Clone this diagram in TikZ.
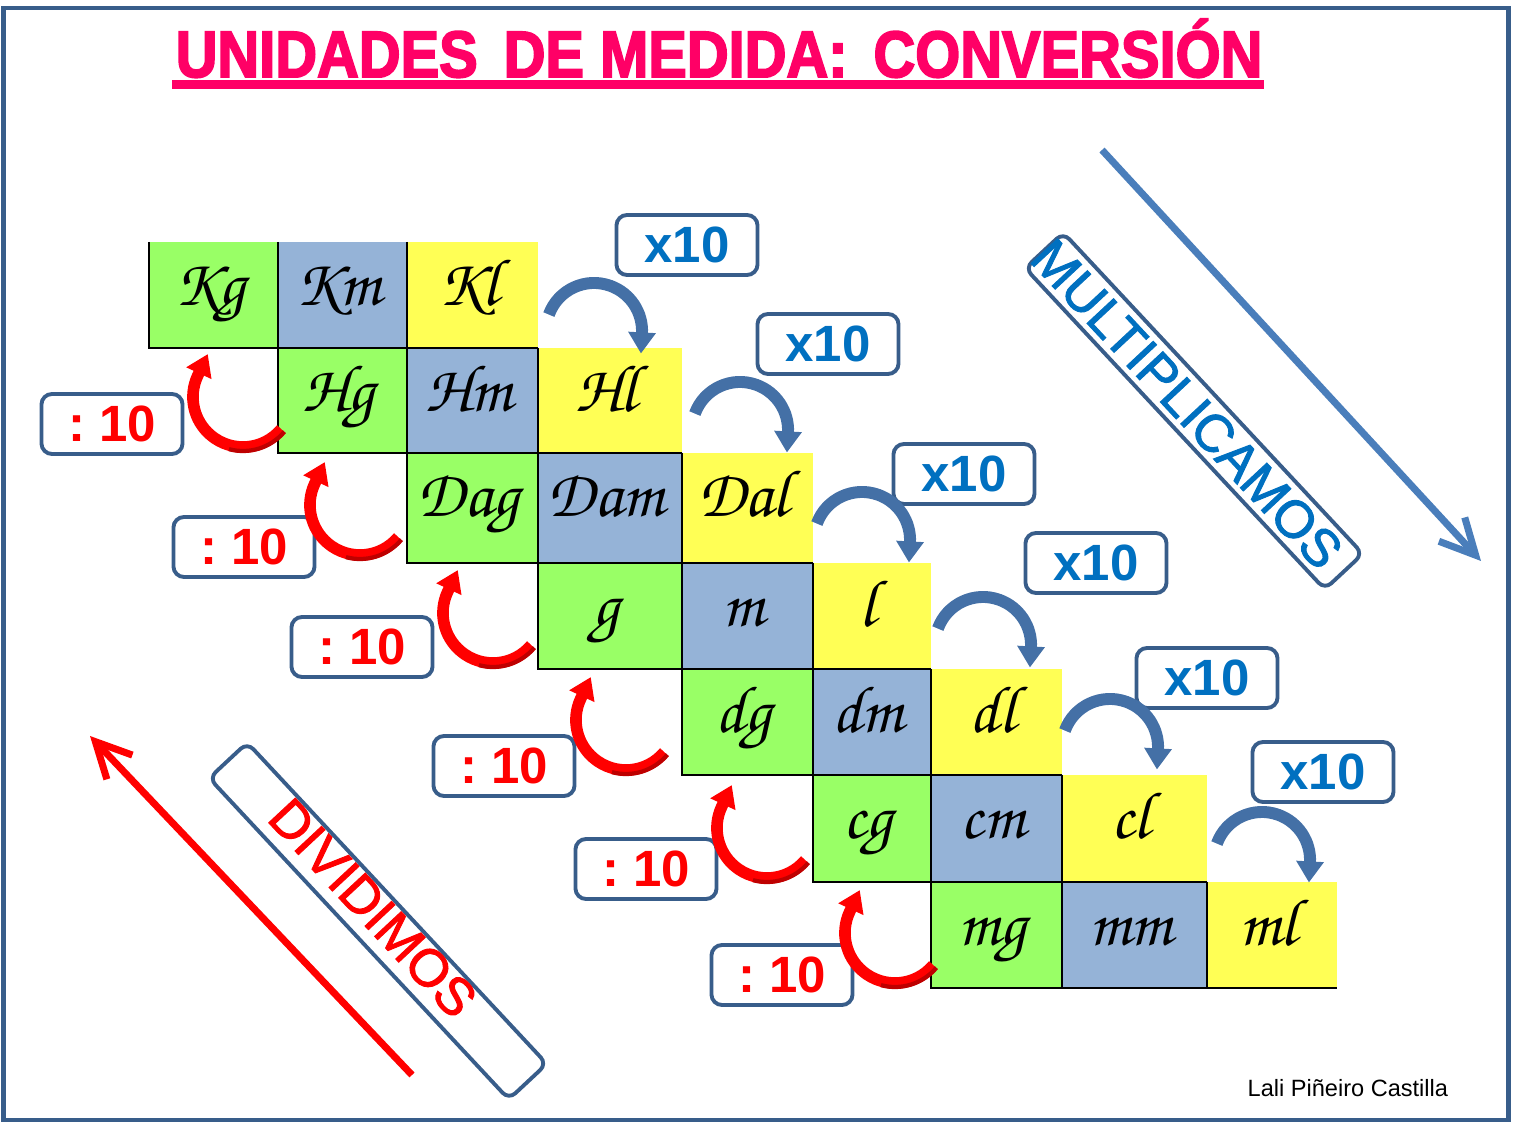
\documentclass[tikz,border=0pt]{standalone}
\usepackage{fontspec}
\setmainfont{Liberation Sans}
\newfontfamily\fuentetitulo[FakeBold=3]{Liberation Sans Bold}
\newfontfamily\fuentediag[FakeBold=1.8]{Liberation Sans}
\usepackage{tikz}
\usetikzlibrary{arrows.meta}

\definecolor{verde}{RGB}{153,255,102}
\definecolor{azulgris}{RGB}{149,179,215}
\definecolor{amarillo}{RGB}{255,255,85}
\definecolor{rosa}{RGB}{255,0,102}
\definecolor{marco}{RGB}{56,93,138}
\definecolor{azultexto}{RGB}{0,112,192}
\definecolor{azulflecha}{RGB}{68,112,166}
\definecolor{azullinea}{RGB}{74,126,187}
\definecolor{rojooscuro}{RGB}{190,0,0}

\newcommand{\manuscrita}{\fontencoding{OT1}\fontfamily{pzc}\fontseries{mb}\fontshape{it}\selectfont}

\begin{document}
\begin{tikzpicture}[x=0.01cm, y=0.01cm,
        celda/.style={inner sep=0pt, font={\fontsize{19}{22}\manuscrita}},
        borde/.style={black, line width=0.6pt},
        caja/.style={draw=marco, fill=white, line width=1.1pt, rounded corners=3pt, minimum width=1.41cm, minimum height=0.60cm, inner sep=0pt, font={\fontsize{14.5}{16}\selectfont\bfseries}},
        cajarot/.style={draw=marco, line width=1.1pt, rounded corners=2.5pt, minimum width=4.39cm, minimum height=0.52cm, rotate=-47},
        textorot/.style={rotate=-47, font={\fontsize{15}{18}\fuentediag}},
        flechaDiv/.style={red, line width=3.3pt, -{Triangle[width=7.5pt,length=6pt]}},
        sombraDiv/.style={rojooscuro, line width=1.2pt},
        flechaMul/.style={azulflecha, line width=3.4pt, -{Triangle[width=7.5pt,length=6pt]}},
        grande/.style={line width=2pt, -{Straight Barb[length=10pt,width=10pt]}}]

        % --- marco y titulo ---
        \useasboundingbox (0,0) rectangle (1523,-1125);
        \draw[marco, line width=1.2pt] (3.5,-8) rectangle (1508.5,-1120);

        \node[anchor=base west, inner sep=0pt, text=rosa] (titulo) at (175,-77)
            {\resizebox{309pt}{16.5pt}{\fuentetitulo UNIDADES\hspace{0.45em}DE MEDIDA:\hspace{0.45em}CONVERSIÓN}};
        \fill[rosa] (172,-80) rectangle (1264,-89);

        % --- tabla de unidades ---
        \def\celdas{149/278/242/348/Kg/verde, 278/407/242/348/Km/azulgris, 407/538/242/348/Kl/amarillo,
            278/407/348/453/Hg/verde, 407/538/348/453/Hm/azulgris, 538/682/348/453/Hl/amarillo,
            407/538/453/563/Dag/verde, 538/682/453/563/Dam/azulgris, 682/813/453/563/Dal/amarillo,
            538/682/563/669/g/verde, 682/813/563/669/m/azulgris, 813/931/563/669/l/amarillo,
            682/813/669/775/dg/verde, 813/931/669/775/dm/azulgris, 931/1062/669/775/dl/amarillo,
            813/931/775/882/cg/verde, 931/1062/775/882/cm/azulgris, 1062/1207/775/882/cl/amarillo,
            931/1062/882/988/mg/verde, 1062/1207/882/988/mm/azulgris, 1207/1337/882/988/ml/amarillo}

        \foreach \xa/\xb/\ya/\yb/\txt/\col in \celdas
            \fill[\col] (\xa,-\ya) rectangle (\xb,-\yb);

        \foreach \xa/\xb/\ya/\yb/\txt/\col in \celdas {
            \draw[borde] (\xa,-\ya) -- (\xa,-\yb) -- (\xb,-\yb);
            \node[celda, anchor=base] (u-\txt) at ({(\xa+\xb)/2-4},{-\ya-64}) {\txt};
        }

        % --- cajas x10 y :10 ---
        \foreach \cx/\cy [count=\i] in {687/245, 828/344, 964/474, 1096/563, 1207/678, 1323/772}
            \node[caja, text=azultexto] (por\i) at (\cx,-\cy) {x10};

        \foreach \cx/\cy [count=\i] in {112/424, 244/547, 362/647, 504/766, 646/869, 782/975}
            \node[caja, text=red] (entre\i) at (\cx,-\cy) {:\hspace{4pt}10\hspace{7pt}};

        % --- flechas curvas ---
        % dividir (rojas)
        \foreach \cx/\cy [count=\i] in {243/397, 360/505, 493/613, 626/720, 767/828, 895/933} {
            \path (\cx,-\cy) ++(-40:50) coordinate (d\i);
            \draw[flechaDiv] (d\i) arc[start angle=-40, end angle=-205, radius=0.5cm] -- ++(65:24);
            \draw[sombraDiv] (d\i) ++(-40:4) arc[start angle=-40, end angle=-105, radius=0.54cm];
        }
        % multiplicar (azules)
        \foreach \cx/\cy [count=\i] in {594/331, 740/430, 862/540, 983/645, 1110/747, 1262/860} {
            \path (\cx,-\cy) ++(160:48) coordinate (m\i);
            \draw[flechaMul] (m\i) arc[start angle=160, end angle=-3, radius=0.48cm] -- ++(-93:20);
        }

        % --- flechas diagonales ---
        \coordinate (mul-a) at (1102,-150);
        \coordinate (mul-b) at (1481,-561);
        \draw[grande, azullinea] (mul-a) -- (mul-b);

        \coordinate (div-a) at (412,-1075);
        \coordinate (div-b) at (90,-736);
        \draw[grande, red] (div-a) -- (div-b);

        \node[cajarot] (caja-mul) at (1194,-411) {};
        \node[textorot, text=azultexto] (txt-mul) at (1187,-404) {MULTIPLICAMOS};

        \node[cajarot] (caja-div) at (378,-921) {};
        \node[textorot, text=red] (txt-div) at (373,-908) {DIVIDIMOS};

        % --- autora ---
        \node[anchor=base west, inner sep=0pt, font=\fontsize{6.7}{8}\selectfont] (autora) at (1247,-1097) {Lali Piñeiro Castilla};

    \end{tikzpicture}
\end{document}
